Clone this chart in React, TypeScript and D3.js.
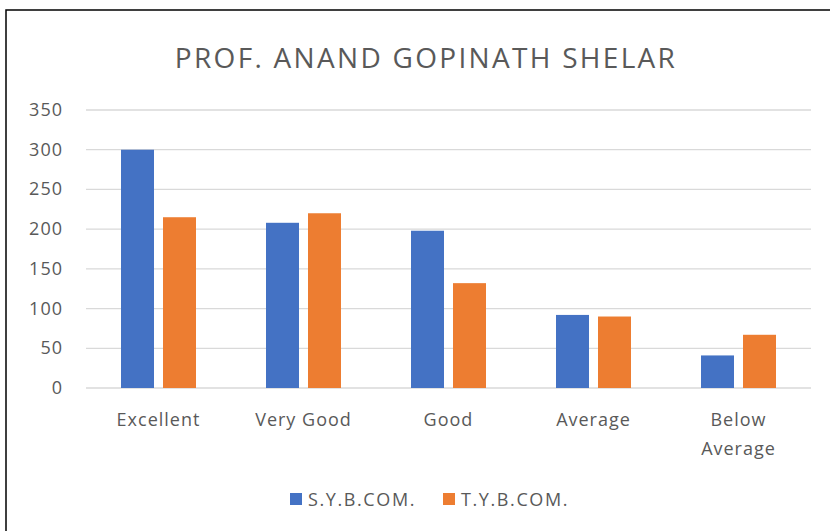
import React from "react";
import * as d3 from "d3";

const categories = ["Excellent", "Very Good", "Good", "Average", "Below Average"];
const categoryLines = [["Excellent"], ["Very Good"], ["Good"], ["Average"], ["Below", "Average"]];
const seriesNames = ["S.Y.B.COM.", "T.Y.B.COM."];
const syValues = [300, 208, 198, 92, 41];
const tyValues = [215, 220, 132, 90, 67];
const yTicks = [0, 50, 100, 150, 200, 250, 300, 350];
const colors = ["#4472C4", "#ED7D31"];
const title = "PROF. ANAND GOPINATH SHELAR";

export default function App() {
  const W = 830, H = 531;
  const left = 86, right = 811, top = 110, bottom = 388;
  const font = "'Open Sans', sans-serif";
  const x = d3.scaleBand().domain(categories).range([left, right]).paddingInner(0).paddingOuter(0);
  const y = d3.scaleLinear().domain([0, 350]).range([bottom, top]);
  const series = [syValues, tyValues];
  const barW = 33, gap = 9;
  return (
    <svg width={W} height={H} style={{ position: "absolute", left: 0, top: 0, background: "#fff" }}>
      <rect x={6} y={10} width={W} height={H} fill="#fff" stroke="#000" strokeWidth={1.5} />
      <text x={426} y={68} textAnchor="middle" fontFamily={font} fontSize={28} letterSpacing={2.3} fill="#595959">{title}</text>
      {yTicks.map((t) => (
        <g key={t}>
          <line x1={left} x2={right} y1={y(t)} y2={y(t)} stroke="#D9D9D9" strokeWidth={1.3} />
          <text x={63} y={y(t) + 6} textAnchor="end" fontFamily={font} fontSize={18} letterSpacing={1} fill="#595959">{t}</text>
        </g>
      ))}
      {categories.map((c, i) => {
        const cx = (x(c) as number) + x.bandwidth() / 2;
        return (
          <g key={c}>
            {series.map((vals, s) => {
              const bx = s === 0 ? cx - gap / 2 - barW : cx + gap / 2;
              return (
                <rect key={s} x={bx} y={y(vals[i])} width={barW} height={y(0) - y(vals[i])} fill={colors[s]} />
              );
            })}
            {categoryLines[i].map((ln, k) => (
              <text key={k} x={cx} y={426 + k * 29} textAnchor="middle" fontFamily={font} fontSize={18} letterSpacing={1} fill="#595959">{ln}</text>
            ))}
          </g>
        );
      })}
      {seriesNames.map((n, s) => {
        const lx = s === 0 ? 290 : 443;
        return (
          <g key={n}>
            <rect x={lx} y={493} width={12} height={12} fill={colors[s]} />
            <text x={lx + 18} y={506} fontFamily={font} fontSize={18} letterSpacing={1.6} fill="#595959">{n}</text>
          </g>
        );
      })}
    </svg>
  );
}
